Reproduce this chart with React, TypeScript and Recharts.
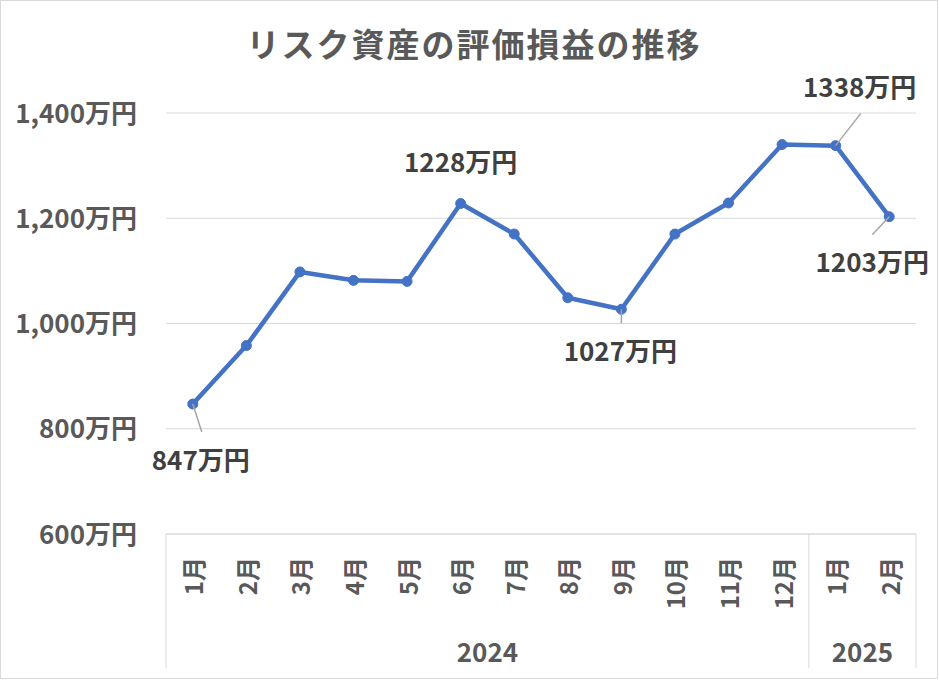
import React from 'react';
import { LineChart, Line, XAxis, YAxis, CartesianGrid, LabelList } from 'recharts';

const title = 'リスク資産の評価損益の推移';
const unit = '万円';
const months = ['1月', '2月', '3月', '4月', '5月', '6月', '7月', '8月', '9月', '10月', '11月', '12月', '1月', '2月'];
const years = ['2024', '2024', '2024', '2024', '2024', '2024', '2024', '2024', '2024', '2024', '2024', '2024', '2025', '2025'];
const values = [847, 958, 1098, 1082, 1080, 1228, 1170, 1049, 1027, 1170, 1229, 1340, 1338, 1203];
const yTicks = [600, 800, 1000, 1200, 1400];
const yDomain = [600, 1400];
const labeledIndices = [0, 5, 8, 12, 13];

const data = months.map((m, i) => ({ idx: i, month: m, year: years[i], value: values[i] }));

const W = 939;
const H = 680;
const MARGIN = { top: 113, right: 23, bottom: 12, left: 0 };
const Y_W = 166;
const X_H = 134;
const N = data.length;
const BW = (W - MARGIN.left - Y_W - MARGIN.right) / N;

const FONT = "'Noto Sans CJK JP', 'Noto Sans', sans-serif";
const AXIS_COLOR = '#595959';
const LABEL_COLOR = '#404040';
const LINE_COLOR = '#4472c4';
const GRID_COLOR = '#d9d9d9';
const TEXT_SHIFT = -2;

const labelPlacement: Record<number, { dx: number; dy: number; lx?: number; ly?: number }> = {
  0: { dx: 8, dy: 56, lx: 9, ly: 28 },
  5: { dx: 0, dy: -41 },
  8: { dx: -1, dy: 42, lx: 0, ly: 14 },
  12: { dx: 24, dy: -58, lx: 25, ly: -32 },
  13: { dx: -17, dy: 46, lx: -17, ly: 18 },
};

const YTick = (props: any) => {
  const { x, y, payload } = props;
  return (
    <text
      x={x}
      y={y + TEXT_SHIFT}
      textAnchor="end"
      dominantBaseline="central"
      fontFamily={FONT}
      fontSize={26}
      fontWeight={700}
      fill={AXIS_COLOR}
    >
      {Number(payload.value).toLocaleString('en-US') + unit}
    </text>
  );
};

const XTick = (props: any) => {
  const { x, y, payload } = props;
  const i = payload.index;
  const els: any[] = [];
  els.push(
    <text
      key="m"
      x={0}
      y={0}
      transform={`translate(${x},${y + 23}) rotate(-90)`}
      textAnchor="end"
      dominantBaseline="central"
      fontFamily={FONT}
      fontSize={24}
      fontWeight={700}
      fill={AXIS_COLOR}
    >
      {months[i]}
    </text>
  );
  const isFirst = i === 0 || years[i] !== years[i - 1];
  if (isFirst) {
    let last = i;
    while (last + 1 < N && years[last + 1] === years[i]) last++;
    els.push(
      <line key="lb" x1={x - BW / 2} x2={x - BW / 2} y1={y} y2={y + 134} stroke={GRID_COLOR} strokeWidth={1} />
    );
    els.push(
      <text
        key="y"
        x={x + ((last - i) / 2) * BW}
        y={y + 118 + TEXT_SHIFT}
        textAnchor="middle"
        dominantBaseline="central"
        fontFamily={FONT}
        fontSize={26}
        fontWeight={700}
        fill={AXIS_COLOR}
      >
        {years[i]}
      </text>
    );
  }
  if (i === N - 1) {
    els.push(
      <line key="rb" x1={x + BW / 2} x2={x + BW / 2} y1={y} y2={y + 134} stroke={GRID_COLOR} strokeWidth={1} />
    );
  }
  return <g>{els}</g>;
};

const DataLabel = (props: any) => {
  const { x, y, index, value } = props;
  if (!labeledIndices.includes(index)) return null;
  const p = labelPlacement[index];
  if (!p) return null;
  return (
    <g>
      {p.lx !== undefined && p.ly !== undefined && (
        <line x1={x} y1={y} x2={x + p.lx} y2={y + p.ly} stroke="#a6a6a6" strokeWidth={1.5} />
      )}
      <text
        x={x + p.dx}
        y={y + p.dy + TEXT_SHIFT}
        textAnchor="middle"
        dominantBaseline="central"
        fontFamily={FONT}
        fontSize={26}
        fontWeight={700}
        fill={LABEL_COLOR}
      >
        {value + unit}
      </text>
    </g>
  );
};

export default function App() {
  return (
    <div style={{ position: 'absolute', left: 0, top: 0, width: W, height: H, background: '#fff' }}>
      <LineChart width={W} height={H} data={data} margin={MARGIN}>
        <CartesianGrid vertical={false} stroke={GRID_COLOR} strokeWidth={1} />
        <XAxis
          dataKey="idx"
          type="category"
          height={X_H}
          interval={0}
          tickLine={false}
          tickSize={0}
          tickMargin={0}
          axisLine={{ stroke: GRID_COLOR, strokeWidth: 1 }}
          padding={{ left: BW / 2, right: BW / 2 }}
          tick={<XTick />}
        />
        <YAxis
          domain={yDomain}
          ticks={yTicks}
          interval={0}
          width={Y_W}
          axisLine={false}
          tickLine={false}
          tickSize={0}
          tickMargin={29}
          tick={<YTick />}
        />
        <Line
          type="linear"
          dataKey="value"
          stroke={LINE_COLOR}
          strokeWidth={4.5}
          strokeLinejoin="round"
          dot={{ r: 5, fill: LINE_COLOR, stroke: LINE_COLOR, strokeWidth: 1 }}
          activeDot={false}
          isAnimationActive={false}
        >
          <LabelList dataKey="value" content={<DataLabel />} />
        </Line>
      </LineChart>
      <div
        style={{
          position: 'absolute',
          left: 0,
          top: 27,
          width: 948,
          textAlign: 'center',
          fontFamily: FONT,
          fontSize: 33,
          lineHeight: '33px',
          fontWeight: 700,
          letterSpacing: 2,
          color: AXIS_COLOR,
          pointerEvents: 'none',
        }}
      >
        {title}
      </div>
      <div
        style={{
          position: 'absolute',
          left: 0,
          top: 0,
          width: 938,
          height: 679,
          boxSizing: 'border-box',
          border: '1px solid #d9d9d9',
          pointerEvents: 'none',
        }}
      />
    </div>
  );
}
